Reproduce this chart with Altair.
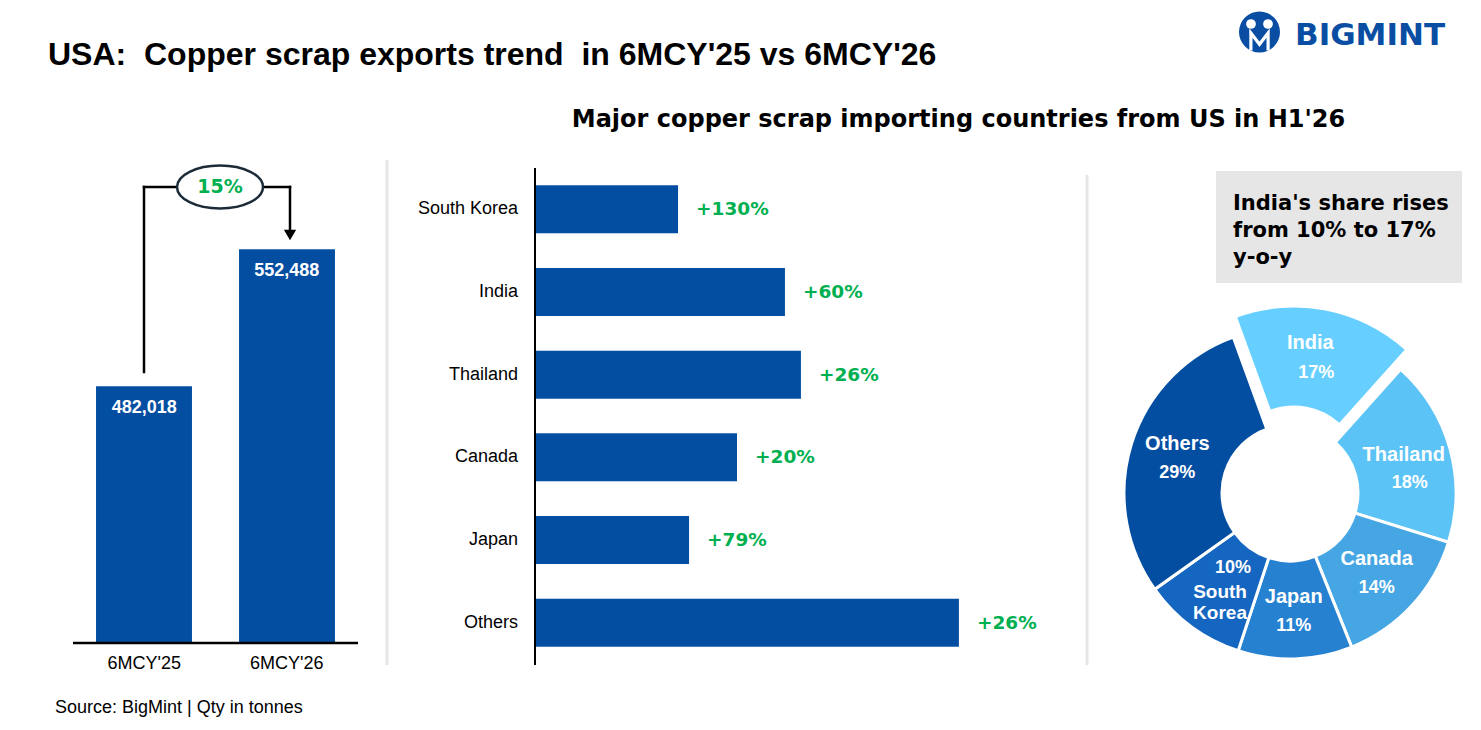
import math
import altair as alt
import pandas as pd

# ---------------- data ----------------
years = ["6MCY'25", "6MCY'26"]
exports_t = [482018, 552488]
yoy_label = "15%"

countries = ["South Korea", "India", "Thailand", "Canada", "Japan", "Others"]
volumes_t = [54600, 95400, 101500, 77100, 58800, 161800]
growth = ["+130%", "+60%", "+26%", "+20%", "+79%", "+26%"]

share_names = ["India", "Thailand", "Canada", "Japan", "South Korea", "Others"]
share_pct = [17, 18, 14, 11, 10, 29]

title_txt = "USA:\u00a0 Copper scrap exports trend\u00a0 in 6MCY'25 vs 6MCY'26"
subtitle_txt = "Major copper scrap importing countries from US in H1'26"
callout_txt = "India's share rises\nfrom 10% to 17%\ny-o-y"
source_txt = "Source: BigMint | Qty in tonnes"
logo_txt = "BIGMINT"

# ---------------- styles ----------------
BLUE = "#044EA2"
GREEN = "#00B050"
SHARE_COLORS = ["#66CFFF", "#5CC3F6", "#46A6E4", "#2781D1", "#1566C0", "#044EA2"]
SANS = "Liberation Sans"
WIDE = "DejaVu Sans"

one = pd.DataFrame({"k": [0]})


def rule(x, y, x2=None, y2=None, color="black", w=2.5, cap="square"):
    enc = dict(x=alt.value(x), y=alt.value(y))
    if x2 is not None:
        enc["x2"] = alt.value(x2)
    if y2 is not None:
        enc["y2"] = alt.value(y2)
    return alt.Chart(one).mark_rule(color=color, strokeWidth=w, strokeCap=cap).encode(**enc)


def text(txt, x, y, size, color="black", weight="normal", align="left",
         baseline="alphabetic", font=SANS, **kw):
    return alt.Chart(pd.DataFrame({"t": [txt]})).mark_text(
        fontSize=size, color=color, fontWeight=weight, align=align,
        baseline=baseline, font=font, **kw
    ).encode(x=alt.value(x), y=alt.value(y), text="t:N")


# ---------------- panel 1: yearly exports ----------------
df1 = pd.DataFrame({"year": years, "tonnes": exports_t, "base": [350000, 350000]})


def x1():
    return alt.X("year:N", sort=None, axis=None,
                 scale=alt.Scale(domain=years, range=[65, 350],
                                 paddingInner=0.329, paddingOuter=0.161))


def y1(field="tonnes:Q"):
    return alt.Y(field, axis=None,
                 scale=alt.Scale(domain=[350000, 600000], range=[635, 149],
                                 zero=False, nice=False))


base1 = alt.Chart(df1)
bars1 = base1.mark_bar(color=BLUE).encode(x=x1(), y=y1(), y2="base:Q")
vals1 = base1.mark_text(color="white", fontWeight="bold", fontSize=18,
                        baseline="middle", dy=22, font=SANS).encode(
    x=x1(), y=y1(), text=alt.Text("tonnes:Q", format=","))
xlab1 = base1.mark_text(color="black", fontSize=18, baseline="middle",
                        dy=21, font=SANS).encode(
    x=x1(), y=y1("base:Q"), text="year:N")
axis1 = rule(65, 635, x2=350, cap="butt")

# ---------------- panel 2: countries ----------------
df2 = pd.DataFrame({"country": countries, "tonnes": volumes_t, "growth": growth})


def y2s():
    return alt.Y("country:N", sort=None, axis=None,
                 scale=alt.Scale(domain=countries, range=[160, 656],
                                 paddingInner=0.42, paddingOuter=0.21))


def x2s():
    return alt.X("tonnes:Q", axis=None,
                 scale=alt.Scale(domain=[0, 200000], range=[527, 1051], nice=False))


base2 = alt.Chart(df2)
bars2 = base2.mark_bar(color=BLUE).encode(x=x2s(), y=y2s())
names2 = base2.mark_text(align="right", fontSize=18, font=SANS, color="black",
                         baseline="middle").encode(
    x=alt.value(510), y=y2s(), text="country:N")
growth2 = base2.mark_text(align="left", dx=18, fontSize=18.5, fontWeight="bold",
                          font=WIDE, color=GREEN, baseline="middle").encode(
    x=x2s(), y=y2s(), text="growth:N")
axis2 = rule(527, 160, y2=657, w=2, cap="butt")

# ---------------- panel 3: donut ----------------
df3 = pd.DataFrame({"order": list(range(len(share_names))),
                    "name": share_names, "pct": share_pct})
base3 = alt.Chart(df3).transform_window(
    s1="sum(pct)", sort=[alt.SortField("order")], frame=[None, 0]
).transform_calculate(
    s0="datum.s1 - datum.pct",
    mid="datum.s1 - datum.pct / 2",
    label="datum.pct + '%'",
)
TH0 = 2 * math.pi - math.radians(20)
th_scale = alt.Scale(domain=[0, 99], range=[TH0, TH0 + 2 * math.pi])
color3 = alt.Color("name:N", legend=None,
                   scale=alt.Scale(domain=share_names, range=SHARE_COLORS))
CX, CY = 1282, 485
EX, EY = 1286, 465.5

arcs = base3.transform_filter("datum.name != 'India'").mark_arc(
    radius=166, radius2=68, stroke="white", strokeWidth=3).encode(
    theta=alt.Theta("s0:Q", scale=th_scale, stack=None),
    theta2=alt.Theta2("s1:Q"), color=color3,
    x=alt.value(CX), y=alt.value(CY))
india_arc = base3.transform_filter("datum.name == 'India'").mark_arc(
    radius=166, radius2=68).encode(
    theta=alt.Theta("s0:Q", scale=th_scale, stack=None),
    theta2=alt.Theta2("s1:Q"), color=color3,
    x=alt.value(EX), y=alt.value(EY))


def dtext(flt, cx, cy, field, **mk):
    props = dict(color="white", fontWeight="bold", font=SANS, baseline="middle")
    props.update(mk)
    return base3.transform_filter(flt).mark_text(**props).encode(
        theta=alt.Theta("mid:Q", scale=th_scale, stack=None),
        radius=alt.value(118), x=alt.value(cx), y=alt.value(cy), text=field)


reg = ("datum.name != 'India' && datum.name != 'South Korea' "
       "&& datum.name != 'Thailand'")
t_names = dtext(reg, CX, CY, "name:N", fontSize=20, dy=-14)
t_pcts = dtext(reg, CX, CY, "label:N", fontSize=18, dy=15)
t_th_name = dtext("datum.name == 'Thailand'", CX, CY, "name:N", fontSize=20, dy=-7)
t_th_pct = dtext("datum.name == 'Thailand'", CX, CY, "label:N", fontSize=18, dy=21, dx=6)
t_in_name = dtext("datum.name == 'India'", EX, EY, "name:N", fontSize=20, dy=-15, dx=-6)
t_in_pct = dtext("datum.name == 'India'", EX, EY, "label:N", fontSize=18, dy=15)
t_sk_pct = dtext("datum.name == 'South Korea'", CX, CY, "label:N",
                 fontSize=18, dy=-20, dx=13)
t_sk_name = dtext("datum.name == 'South Korea'", CX, CY, "name:N",
                  fontSize=19, dy=10, baseline="alphabetic",
                  lineBreak=" ", lineHeight=21)

# ---------------- decorations ----------------
ellipse_path = "M -1 0 A 1 0.5 0 1 1 1 0 A 1 0.5 0 1 1 -1 0 Z"
ellipse = alt.Chart(one).mark_point(
    shape=ellipse_path, size=86 * 86, filled=True, fill="white",
    stroke="#1B2B38", strokeWidth=2.5, opacity=1).encode(
    x=alt.value(212), y=alt.value(179))
arrow = alt.Chart(one).mark_point(
    shape="triangle-down", size=150, filled=True, color="black", opacity=1).encode(
    x=alt.value(282), y=alt.value(227))

logo_circle = alt.Chart(one).mark_point(
    shape="circle", size=41 * 41, filled=True, color="#0A4EA3", opacity=1).encode(
    x=alt.value(1251.5), y=alt.value(24))
logo_heads = [alt.Chart(one).mark_point(
    shape="circle", size=95, filled=True, color="white", opacity=1).encode(
    x=alt.value(hx), y=alt.value(16)) for hx in (1243, 1260)]
logo_body = alt.Chart(one).mark_point(
    shape="M -0.42 0.9 L -0.42 0.05 L 0 0.6 L 0.42 0.05 L 0.42 0.9",
    size=41 * 41, filled=False, stroke="white", strokeWidth=3.2, opacity=1).encode(
    x=alt.value(1251.5), y=alt.value(24))

layers = [
    bars1, axis1, vals1, xlab1,
    bars2, axis2, names2, growth2,
    arcs, india_arc, t_names, t_pcts, t_th_name, t_th_pct,
    t_in_name, t_in_pct, t_sk_pct, t_sk_name,
    text(title_txt, 40, 57, 32, weight="bold"),
    text(logo_txt, 1287, 37, 31, color="#0A4EA3", weight="bold", font=WIDE),
    logo_circle, *logo_heads, logo_body,
    text(subtitle_txt, 950.5, 119, 24, weight="bold", align="center", font=WIDE),
    rule(379, 152, y2=657, color="#E6E6E6", w=3, cap="butt"),
    rule(1079, 167, y2=657, color="#E6E6E6", w=3, cap="butt"),
    rule(136, 364, y2=179),
    rule(136, 179, x2=282),
    rule(282, 179, y2=222),
    arrow,
    ellipse,
    text(yoy_label, 212, 179, 19, color=GREEN, weight="bold", align="center",
         baseline="middle", font=WIDE),
    alt.Chart(one).mark_rect(color="#E6E6E6").encode(
        x=alt.value(1208), x2=alt.value(1454), y=alt.value(163), y2=alt.value(275)),
    text(callout_txt, 1225, 202, 21, weight="bold", font=WIDE,
         lineBreak="\n", lineHeight=27),
    text(source_txt, 47, 705, 18),
]

chart = alt.layer(*layers).resolve_scale(
    x="independent", y="independent"
).properties(
    width=1460, height=710, padding=0,
    autosize=alt.AutoSizeParams(type="none"),
).configure(font=SANS).configure_view(stroke=None)

chart.save("out.html", embed_options={"renderer": "svg", "actions": False})
